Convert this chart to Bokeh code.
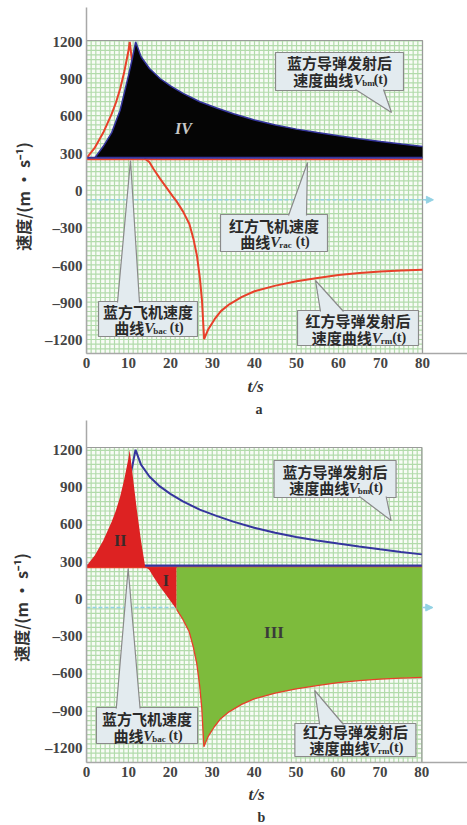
import numpy as np
from bokeh.plotting import figure
from bokeh.models import FixedTicker, Label, Arrow, NormalHead, Title
from bokeh.layouts import column
from bokeh.embed import file_html
from bokeh.resources import INLINE

# ---------------- data ----------------
x_ticks = [0, 10, 20, 30, 40, 50, 60, 70, 80]
y_ticks = [-1200, -900, -600, -300, 0, 300, 600, 900, 1200]
y_tick_labels = {v: (str(v) if v >= 0 else "\u2013" + str(-v)) for v in y_ticks}

t_aircraft = [0, 80]
v_blue_aircraft = [268, 268]   # V_bac(t)
v_red_aircraft = [255, 255]    # V_rac(t)

t_blue_missile = [2, 4, 6, 8, 9, 10, 11, 11.7, 13, 15, 17.5, 20, 23, 27, 31, 35,
                  40, 45, 50, 55, 60, 65, 70, 75, 80]
v_blue_missile = [268, 360, 470, 650, 790, 930, 1080, 1200, 1080, 985, 905, 845,
                  785, 718, 668, 622, 572, 532, 498, 470, 445, 421, 399, 378, 358]

t_red_missile = [0, 2, 4, 6, 7, 8, 9, 10, 10.3, 11, 12, 13, 14, 15, 16, 17.5, 19,
                 20.5, 21.5, 23, 24.5, 25.5, 26.3, 27, 27.5, 28, 29, 30.5, 32, 34,
                 37, 40, 45, 50, 55, 60, 65, 70, 75, 80]
v_red_missile = [265, 350, 470, 620, 710, 820, 960, 1130, 1200, 1000, 720, 470,
                 258, 232, 175, 100, 30, -40, -85, -165, -265, -390, -520, -700,
                 -880, -1190, -1110, -1030, -965, -910, -850, -805, -760, -725,
                 -698, -675, -658, -647, -638, -632]

t_ref = [0, 82.6]
v_ref = [-70, -70]

t_region_I_start = 14      # red missile drops below aircraft speed
t_region_III_start = 21.5  # start of region III

RED = "#e8402a"
BLUE = "#35359e"
GRID_BG = "#f8fcf6"
GRID_LINE = "#b2dbab"
BOX_FILL = "#e3ebef"
BOX_LINE = "#8a8a8a"
TXT = "#2a2a2a"
# two ideographic spaces at the end shift the centred label slightly downwards
YLABEL = "速度/(m · s\u207b\u00b9)\u3000\u3000"

PANELS = {
    "a": dict(X0=86, SX=4.2, Y1200=41.3, SY=0.1244, fig_top=0, fig_h=418,
              frame_top=7, frame_bot=353, grid_top=40, tag="a",
              ylab_standoff=7, ts_off=161, tag_off=169, ts_standoff=8),
    "b": dict(X0=83, SX=4.225, Y1200=449.3, SY=0.1242, fig_top=418, fig_h=407,
              frame_top=420, frame_bot=762, grid_top=447, tag="b",
              ylab_standoff=9, ts_off=162, tag_off=171, ts_standoff=7),
}


def make_panel(name):
    c = PANELS[name]
    cx = lambda px: (px - c["X0"]) / c["SX"]
    cy = lambda py: 1200 - (py - c["Y1200"]) / c["SY"]

    p = figure(width=467, height=c["fig_h"], x_range=(0, cx(467)),
               y_range=(cy(c["frame_bot"]), cy(c["frame_top"])),
               output_backend="svg", toolbar_location=None, title=None,
               min_border_left=c["X0"], min_border_right=0,
               min_border_top=c["frame_top"] - c["fig_top"],
               min_border_bottom=c["fig_top"] + c["fig_h"] - c["frame_bot"])
    p.xgrid.visible = False
    p.ygrid.visible = False
    p.outline_line_color = None
    p.background_fill_color = "white"
    p.border_fill_color = "white"

    for ax in (p.xaxis[0], p.yaxis[0]):
        ax.axis_line_color = "#a8a8a8"
        ax.axis_line_width = 1.5
        ax.major_tick_in = 0
        ax.major_tick_out = 0
        ax.minor_tick_in = 0
        ax.minor_tick_out = 0
        ax.major_label_text_font = "Liberation Serif"
        ax.major_label_text_font_style = "bold"
        ax.major_label_text_font_size = "15px"
        ax.major_label_text_color = "#444444"
        ax.major_label_standoff = 4
    p.xaxis.ticker = FixedTicker(ticks=x_ticks)
    p.yaxis.ticker = FixedTicker(ticks=y_ticks)
    p.yaxis.major_label_overrides = y_tick_labels

    # y-axis title
    p.yaxis.axis_label = YLABEL
    p.yaxis.axis_label_standoff = c["ylab_standoff"]
    p.yaxis.axis_label_text_font = "Noto Sans CJK SC"
    p.yaxis.axis_label_text_font_style = "bold"
    p.yaxis.axis_label_text_font_size = "16px"
    p.yaxis.axis_label_text_color = "#333333"

    # x title and panel tag as below-panel titles
    p.add_layout(Title(text="t/s", align="left", offset=c["ts_off"],
                       text_font="Liberation Serif", text_font_style="bold italic",
                       text_font_size="17px", text_color="#333333",
                       standoff=c["ts_standoff"]), "below")
    p.add_layout(Title(text=c["tag"], align="left", offset=c["tag_off"],
                       text_font="Liberation Serif", text_font_style="bold",
                       text_font_size="14px", text_color="#333333", standoff=0), "below")

    # gridded plotting area
    gbot = cy(c["frame_bot"])
    gtop = cy(c["grid_top"])
    p.quad(left=0, right=80, bottom=gbot, top=gtop, fill_color=GRID_BG, line_color=None)
    gx = np.linspace(0, 80, 73)
    gy = np.arange(gbot, gtop, 37.5)
    p.segment(x0=gx, y0=[gbot] * len(gx), x1=gx, y1=[gtop] * len(gx),
              line_color=GRID_LINE, line_width=1.2)
    p.segment(x0=[0] * len(gy), y0=gy, x1=[80] * len(gy), y1=gy,
              line_color=GRID_LINE, line_width=1.2)
    p.quad(left=0, right=80, bottom=gbot, top=gtop, fill_color=None,
           line_color="#9a9a9a", line_width=1.2)

    # reference dashed line with arrow
    p.line(t_ref, v_ref, line_color="#93d2e4", line_width=1.5, line_dash="4 2")
    p.add_layout(Arrow(end=NormalHead(size=7, fill_color="#93d2e4", line_color="#93d2e4"),
                       x_start=t_ref[1] - 2, y_start=v_ref[1], x_end=t_ref[1], y_end=v_ref[1],
                       line_color="#93d2e4", line_width=1.5))

    tb = np.array(t_blue_missile)
    vb = np.array(v_blue_missile)
    tr = np.array(t_red_missile)
    vr = np.array(v_red_missile)

    if name == "a":
        p.line(tr, vr, line_color=RED, line_width=2)
        p.varea(x=tb, y1=[v_blue_aircraft[0]] * len(tb), y2=vb, fill_color="#050505")
        p.line(t_aircraft, v_red_aircraft, line_color=RED, line_width=2)
        p.line(t_aircraft, v_blue_aircraft, line_color=BLUE, line_width=2)
        p.line(tb, vb, line_color=BLUE, line_width=1.5)
    else:
        p.line(t_aircraft, v_red_aircraft, line_color=RED, line_width=2)
        p.line(t_aircraft, v_blue_aircraft, line_color=BLUE, line_width=2.2)
        p.line(tb, vb, line_color=BLUE, line_width=2)
        base = v_red_aircraft[0]
        m2 = tr <= t_region_I_start
        m1 = (tr >= t_region_I_start) & (tr <= t_region_III_start)
        m3 = tr >= t_region_III_start
        p.varea(x=tr[m2], y1=[base] * int(m2.sum()), y2=vr[m2], fill_color="#dd2222")
        p.varea(x=tr[m1], y1=[base] * int(m1.sum()), y2=vr[m1], fill_color="#dd2222")
        p.varea(x=tr[m3], y1=[base] * int(m3.sum()), y2=vr[m3], fill_color="#7dbb3c")
        p.line(tr[m3], vr[m3], line_color=RED, line_width=1.3)

    def lab(px, py, text, size=15, font="Noto Sans CJK SC", style="bold",
            align="center", color=TXT):
        p.add_layout(Label(x=cx(px), y=cy(py), text=text, text_font=font,
                           text_font_style=style, text_font_size=f"{size}px",
                           text_align=align, text_baseline="middle",
                           text_color=color))

    def callout(box, tip, base, line1, line2, sub, ly):
        x0, y0, x1, y1 = box
        above = tip[1] < y0
        by = y0 + 1 if above else y1 - 1
        p.quad(left=cx(x0), right=cx(x1), bottom=cy(y1), top=cy(y0),
               fill_color=BOX_FILL, line_color=BOX_LINE, line_width=1.2)
        p.patch([cx(base[0]), cx(tip[0]), cx(base[1])], [cy(by), cy(tip[1]), cy(by)],
                fill_color=BOX_FILL, line_color=None)
        p.multi_line([[cx(base[0]), cx(tip[0]), cx(base[1])]],
                     [[cy(by), cy(tip[1]), cy(by)]], line_color=BOX_LINE, line_width=1.2)
        xm = (x0 + x1) / 2
        lab(xm, ly[0], line1)
        w_main = 15 * len(line2)
        w_v = 9
        w_sub = 5.2 * len(sub)
        w_tail = 13
        start = xm - (w_main + w_v + w_sub + w_tail) / 2
        lab(start, ly[1], line2, align="left")
        lab(start + w_main, ly[1], "V", size=15, font="Liberation Serif",
            style="bold italic", align="left")
        lab(start + w_main + w_v, ly[1] + 3, sub, size=9, font="Liberation Serif",
            style="bold", align="left")
        lab(start + w_main + w_v + w_sub + 1, ly[1], "(t)", size=14,
            font="Liberation Serif", style="bold", align="left")

    if name == "a":
        callout((275, 52, 403, 90), (391, 112), (355, 383), "蓝方导弹发射后", "速度曲线", "bm", (62, 79))
        callout((220, 214, 327, 251), (307, 162), (288, 306), "红方飞机速度", "曲线", "rac", (225, 241))
        callout((98, 301, 197, 336), (130, 160), (117, 139), "蓝方飞机速度", "曲线", "bac", (311, 327))
        callout((297, 310, 418, 345), (315, 280), (320, 343), "红方导弹发射后", "速度曲线", "rm", (320, 337))
        lab(183, 128, "IV", size=16, font="Liberation Serif", style="bold italic", color="#c8c8c8")
    else:
        callout((272, 460, 395, 497), (390, 520), (358, 385), "蓝方导弹发射后", "速度曲线", "bm", (471, 487))
        callout((93, 707, 195, 743), (125, 568), (113, 137), "蓝方飞机速度", "曲线", "bac", (718, 735))
        callout((293, 723, 415, 756), (313, 690), (318, 342), "红方导弹发射后", "速度曲线", "rm", (731, 747))
        lab(117, 540, "II", size=16, font="Liberation Serif", style="bold", color="#3a2a2a")
        lab(163, 580, "I", size=16, font="Liberation Serif", style="bold", color="#3a2a2a")
        lab(272, 632, "III", size=17, font="Liberation Serif", style="bold", color="#3a3a3a")
    return p


pa = make_panel("a")
pb = make_panel("b")
layout = column(pa, pb, spacing=0)
open("out.html", "w").write(file_html(layout, INLINE))
